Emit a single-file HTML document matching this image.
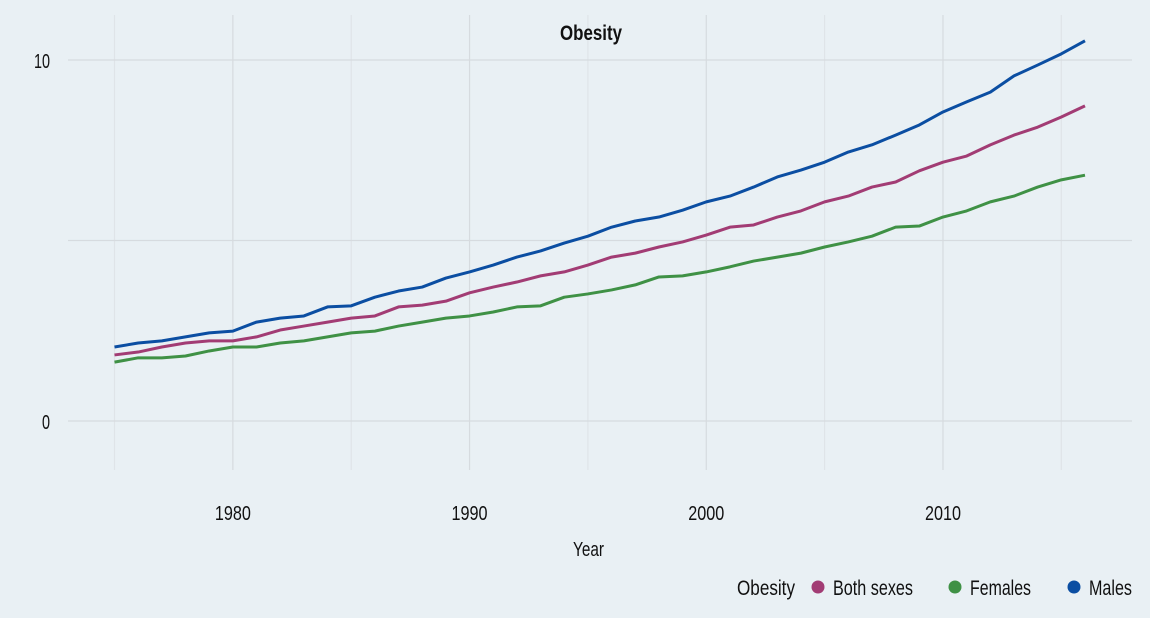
<!DOCTYPE html>
<html><head><meta charset="utf-8"><style>
body{margin:0;background:#e9f0f4;}
svg text{font-family:"Liberation Sans Narrow","Liberation Sans",sans-serif;fill:#111;}
</style></head><body>
<svg id="c" width="1150" height="613" xmlns="http://www.w3.org/2000/svg">
<rect width="1150" height="613" fill="#e9f0f4"/>
<g id="grid"></g>
<g id="lines"></g>
<text x="560" y="40" font-size="21" font-weight="bold" textLength="62" lengthAdjust="spacingAndGlyphs">Obesity</text>
<text x="573" y="556" font-size="20" textLength="31" lengthAdjust="spacingAndGlyphs">Year</text>
<g>
<text x="737" y="595" font-size="21" textLength="58" lengthAdjust="spacingAndGlyphs">Obesity</text>
<g><circle cx="818" cy="587" r="6.5" fill="#a23c74"/><text x="833" y="595" font-size="21" textLength="80" lengthAdjust="spacingAndGlyphs">Both sexes</text></g>
<g><circle cx="955" cy="587" r="6.5" fill="#3f9145"/><text x="970" y="595" font-size="21" textLength="61" lengthAdjust="spacingAndGlyphs">Females</text></g>
<g><circle cx="1074" cy="587" r="6.5" fill="#0b4ea2"/><text x="1089" y="595" font-size="21" textLength="43" lengthAdjust="spacingAndGlyphs">Males</text></g>
</g>
</svg>
<script>
const years=[];for(let y=1975;y<=2016;y++)years.push(y);
const males=[2.05,2.16,2.22,2.33,2.44,2.49,2.74,2.85,2.91,3.16,3.19,3.43,3.60,3.71,3.96,4.13,4.32,4.54,4.71,4.93,5.12,5.37,5.54,5.65,5.84,6.07,6.23,6.48,6.76,6.95,7.17,7.45,7.65,7.92,8.20,8.56,8.84,9.11,9.56,9.86,10.17,10.53];
const both=[1.83,1.91,2.05,2.16,2.22,2.22,2.33,2.52,2.63,2.74,2.85,2.91,3.16,3.21,3.32,3.55,3.71,3.85,4.02,4.13,4.32,4.54,4.65,4.82,4.96,5.15,5.37,5.43,5.65,5.82,6.07,6.23,6.48,6.62,6.93,7.17,7.34,7.65,7.92,8.14,8.42,8.73];
const females=[1.63,1.75,1.75,1.80,1.94,2.05,2.05,2.16,2.22,2.33,2.44,2.49,2.63,2.74,2.85,2.91,3.02,3.16,3.19,3.43,3.52,3.63,3.77,3.99,4.02,4.13,4.27,4.43,4.54,4.65,4.82,4.96,5.12,5.37,5.40,5.65,5.82,6.07,6.23,6.48,6.68,6.81];
const xTicks=[1980,1990,2000,2010];
const yTicks=[0,10];
const NS="http://www.w3.org/2000/svg";
const sx=y=>114.5+(y-1975)*(1085-114.5)/41;
const sy=v=>421-v*36.1;
const grid=document.getElementById('grid'),lines=document.getElementById('lines');
function mk(t,a,p){const e=document.createElementNS(NS,t);for(const k in a)e.setAttribute(k,a[k]);p.appendChild(e);return e;}
for(let y=1975;y<=2015;y+=5){const l=mk('line',{x1:sx(y),x2:sx(y),y1:15,y2:470,stroke:y%10===0?'#d6dbdf':'#dfe4e8','stroke-width':1.2},grid);

}
for(const v of [0,5,10]){const l=mk('line',{x1:68,x2:1132,y1:sy(v),y2:sy(v),stroke:'#d6dbdf','stroke-width':1.2},grid);

}
xTicks.forEach(t=>{const e=mk('text',{x:sx(t)-18,y:520,'font-size':20,textLength:36,lengthAdjust:'spacingAndGlyphs'},grid);e.textContent=t;

});
yTicks.forEach(t=>{const w=String(t).length*8;const e=mk('text',{x:50-w,y:sy(t)+8,'font-size':20,textLength:w,lengthAdjust:'spacingAndGlyphs'},grid);e.textContent=t;

});
[[females,'#3f9145','females-line'],[both,'#a23c74','both-sexes-line'],[males,'#0b4ea2','males-line']].forEach(([d,c,n])=>{
const p=mk('polyline',{points:d.map((v,i)=>sx(years[i])+','+sy(v)).join(' '),fill:'none',stroke:c,'stroke-width':3,'stroke-linejoin':'round'},lines);

});
</script>
</body></html>
